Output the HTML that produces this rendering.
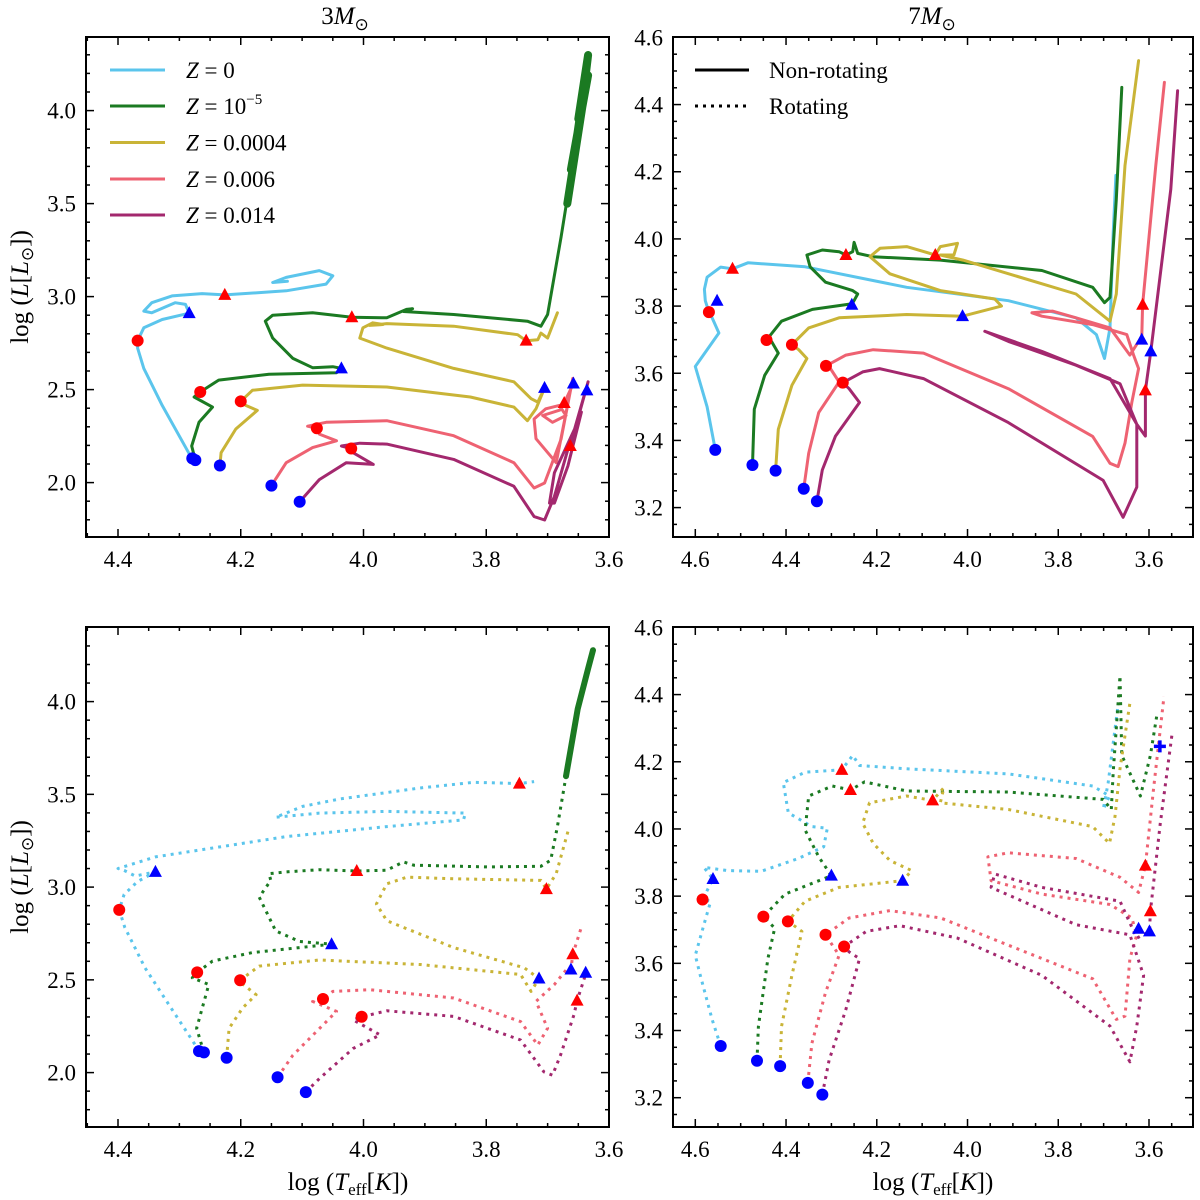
<!DOCTYPE html>
<html><head><meta charset="utf-8"><style>
html,body{margin:0;padding:0;background:#fff}
svg{display:block}
text{font-family:"Liberation Serif",serif;fill:#000}
</style></head><body>
<svg id="chart" width="1200" height="1200" viewBox="0 0 1200 1200" xmlns="http://www.w3.org/2000/svg">
<text x="345" y="24" font-size="25" text-anchor="middle">3<tspan font-style="italic">M</tspan><tspan font-size="17" dy="6">⊙</tspan></text>
<text x="932" y="24" font-size="25" text-anchor="middle">7<tspan font-style="italic">M</tspan><tspan font-size="17" dy="6">⊙</tspan></text>
<text x="348" y="1190" font-size="25" text-anchor="middle">log (<tspan font-style="italic">T</tspan><tspan font-size="17" dy="5">eff</tspan><tspan dy="-5">[</tspan><tspan font-style="italic">K</tspan>])</text>
<text x="933" y="1190" font-size="25" text-anchor="middle">log (<tspan font-style="italic">T</tspan><tspan font-size="17" dy="5">eff</tspan><tspan dy="-5">[</tspan><tspan font-style="italic">K</tspan>])</text>
<text transform="translate(28,287) rotate(-90)" font-size="25" text-anchor="middle">log (<tspan font-style="italic">L</tspan>[<tspan font-style="italic">L</tspan><tspan font-size="17" dy="5">⊙</tspan><tspan dy="-5">])</tspan></text>
<text transform="translate(28,877) rotate(-90)" font-size="25" text-anchor="middle">log (<tspan font-style="italic">L</tspan>[<tspan font-style="italic">L</tspan><tspan font-size="17" dy="5">⊙</tspan><tspan dy="-5">])</tspan></text>
</svg>
<script>
// ---------- data (log Teff, log L) ----------
const tl0=[[4.279,2.130],[4.285,2.161],[4.328,2.415],[4.358,2.614],[4.368,2.723],[4.368,2.763],[4.358,2.832],[4.328,2.877],[4.284,2.911],[4.29,2.958],[4.307,2.967],[4.345,2.913],[4.358,2.922],[4.345,2.967],[4.312,3.004],[4.263,3.016],[4.226,3.009],[4.126,3.031],[4.061,3.067],[4.05,3.112],[4.072,3.14],[4.126,3.103],[4.148,3.076],[4.124,3.082]];
const tl1=[[4.274,2.121],[4.28,2.197],[4.268,2.324],[4.246,2.406],[4.276,2.46],[4.266,2.487],[4.236,2.551],[4.154,2.582],[4.044,2.591],[4.036,2.614],[4.05,2.623],[4.083,2.618],[4.115,2.668],[4.148,2.777],[4.16,2.868],[4.148,2.9],[4.083,2.913],[4.019,2.889],[3.962,2.886],[3.93,2.931],[3.92,2.935],[3.935,2.92],[3.853,2.904],[3.733,2.868],[3.711,2.841],[3.7,2.904],[3.678,3.321],[3.656,3.774],[3.64,4.136],[3.634,4.299],[3.65,3.955],[3.634,4.19],[3.662,3.683],[3.642,4.05],[3.668,3.5]];
const tl2=[[4.234,2.092],[4.232,2.161],[4.208,2.288],[4.173,2.388],[4.192,2.415],[4.2,2.437],[4.181,2.496],[4.099,2.524],[3.962,2.514],[3.826,2.46],[3.755,2.406],[3.733,2.333],[3.719,2.397],[3.705,2.509],[3.716,2.433],[3.727,2.451],[3.755,2.542],[3.853,2.614],[3.962,2.723],[4.006,2.777],[4.001,2.832],[3.985,2.859],[3.968,2.85],[3.99,2.845],[3.962,2.855],[3.853,2.841],[3.749,2.795],[3.735,2.763],[3.716,2.768],[3.711,2.804],[3.7,2.777],[3.684,2.913]];
const tl3=[[4.15,1.984],[4.126,2.107],[4.083,2.188],[4.044,2.225],[4.072,2.261],[4.076,2.292],[4.091,2.303],[4.061,2.324],[3.962,2.333],[3.853,2.252],[3.755,2.107],[3.722,1.971],[3.705,1.998],[3.678,2.234],[3.659,2.56],[3.686,2.107],[3.719,2.236],[3.722,2.342],[3.703,2.397],[3.681,2.415],[3.67,2.361],[3.692,2.324],[3.708,2.361],[3.68,2.39],[3.673,2.428],[3.658,2.533]];
const tl4=[[4.104,1.897],[4.072,2.016],[4.028,2.107],[3.984,2.098],[4.017,2.161],[4.02,2.183],[4.036,2.197],[4.006,2.212],[3.962,2.207],[3.853,2.125],[3.755,1.98],[3.722,1.817],[3.705,1.799],[3.689,1.926],[3.667,2.179],[3.663,2.197],[3.634,2.542],[3.656,2.288],[3.689,2.053],[3.697,1.89],[3.689,1.89],[3.667,2.089],[3.645,2.379]];

const tr0=[[4.556,3.372],[4.574,3.50],[4.6,3.62],[4.548,3.72],[4.563,3.765],[4.57,3.782],[4.578,3.816],[4.58,3.85],[4.574,3.886],[4.544,3.916],[4.518,3.911],[4.484,3.929],[4.358,3.917],[4.134,3.856],[3.91,3.816],[3.761,3.765],[3.716,3.715],[3.698,3.644],[3.686,3.735],[3.679,4.017],[3.673,4.189]];
const tr1=[[4.474,3.327],[4.47,3.493],[4.447,3.594],[4.417,3.66],[4.432,3.695],[4.443,3.699],[4.41,3.755],[4.342,3.79],[4.26,3.806],[4.255,3.804],[4.242,3.836],[4.253,3.846],[4.313,3.871],[4.347,3.917],[4.354,3.952],[4.32,3.967],[4.283,3.962],[4.268,3.952],[4.253,3.962],[4.25,3.99],[4.242,3.957],[4.209,3.947],[4.06,3.937],[3.836,3.906],[3.724,3.856],[3.698,3.81],[3.686,3.826],[3.672,4.118],[3.66,4.451]];
const tr2=[[4.423,3.31],[4.417,3.433],[4.387,3.564],[4.354,3.644],[4.372,3.67],[4.387,3.685],[4.35,3.735],[4.283,3.765],[4.134,3.775],[4.011,3.77],[3.925,3.8],[3.94,3.821],[4.06,3.846],[4.171,3.896],[4.215,3.947],[4.193,3.972],[4.134,3.977],[4.071,3.952],[4.06,3.977],[4.022,3.987],[4.03,3.952],[4.06,3.952],[4.01,3.937],[3.761,3.836],[3.686,3.755],[3.672,3.836],[3.653,4.219],[3.623,4.531]];
const tr3=[[4.361,3.256],[4.35,3.362],[4.328,3.483],[4.283,3.574],[4.305,3.62],[4.312,3.622],[4.268,3.654],[4.208,3.67],[4.097,3.66],[3.91,3.554],[3.724,3.412],[3.686,3.332],[3.668,3.322],[3.653,3.392],[3.638,3.513],[3.623,3.614],[3.634,3.654],[3.649,3.715],[3.724,3.745],[3.836,3.77],[3.858,3.78],[3.813,3.785],[3.761,3.765],[3.686,3.735],[3.642,3.654],[3.623,3.695],[3.616,3.7],[3.614,3.804],[3.585,4.219],[3.566,4.466]];
const tr4=[[4.332,3.219],[4.32,3.312],[4.291,3.413],[4.238,3.513],[4.261,3.554],[4.275,3.572],[4.231,3.604],[4.194,3.614],[4.097,3.584],[3.91,3.453],[3.701,3.281],[3.657,3.171],[3.627,3.261],[3.627,3.448],[3.664,3.569],[3.761,3.624],[3.91,3.695],[3.962,3.725],[3.836,3.665],[3.686,3.584],[3.627,3.448],[3.608,3.413],[3.608,3.549],[3.596,3.665],[3.552,4.148],[3.537,4.441]];

const bl0=[[4.268,2.116],[4.274,2.149],[4.317,2.366],[4.356,2.565],[4.389,2.783],[4.398,2.877],[4.39,2.96],[4.368,3.03],[4.339,3.082],[4.372,3.06],[4.39,3.09],[4.4,3.1],[4.339,3.163],[4.126,3.272],[3.962,3.326],[3.837,3.362],[3.834,3.399],[3.962,3.408],[4.072,3.399],[4.143,3.377],[4.099,3.435],[4.039,3.475],[3.908,3.534],[3.82,3.565],[3.746,3.558],[3.722,3.569]];
const bl1=[[4.26,2.109],[4.272,2.239],[4.252,2.475],[4.279,2.511],[4.271,2.54],[4.246,2.601],[4.181,2.647],[4.052,2.692],[4.104,2.707],[4.143,2.764],[4.17,2.946],[4.151,3.036],[4.154,3.072],[4.126,3.082],[4.072,3.094],[4.011,3.087],[3.962,3.091],[3.935,3.136],[3.918,3.118],[3.798,3.109],[3.711,3.112],[3.695,3.145],[3.684,3.326],[3.67,3.598],[3.651,3.96],[3.634,4.178],[3.626,4.277]];
const bl2=[[4.223,2.08],[4.219,2.239],[4.197,2.348],[4.175,2.42],[4.203,2.493],[4.201,2.498],[4.17,2.574],[4.072,2.607],[3.908,2.583],[3.744,2.529],[3.727,2.438],[3.714,2.507],[3.738,2.565],[3.853,2.674],[3.962,2.819],[3.979,2.909],[3.962,3.018],[3.929,3.054],[3.853,3.045],[3.711,3.036],[3.702,2.989],[3.686,3.072],[3.667,3.299]];
const bl3=[[4.14,1.975],[4.115,2.094],[4.044,2.33],[4.083,2.384],[4.066,2.397],[4.05,2.438],[3.99,2.447],[3.853,2.402],[3.744,2.275],[3.716,2.149],[3.7,2.239],[3.719,2.384],[3.689,2.475],[3.667,2.565],[3.662,2.556],[3.659,2.638],[3.646,2.774]];
const bl4=[[4.094,1.895],[4.072,1.967],[4.017,2.13],[3.973,2.203],[4.017,2.284],[4.003,2.301],[3.962,2.333],[3.853,2.303],[3.744,2.176],[3.706,2.004],[3.692,1.986],[3.679,2.094],[3.657,2.312],[3.652,2.388],[3.64,2.511],[3.638,2.538]];

const br0=[[4.544,3.354],[4.563,3.433],[4.589,3.564],[4.6,3.624],[4.581,3.715],[4.566,3.785],[4.584,3.79],[4.561,3.851],[4.581,3.886],[4.529,3.876],[4.455,3.874],[4.373,3.912],[4.317,3.947],[4.309,4.002],[4.343,4.007],[4.395,4.048],[4.406,4.138],[4.358,4.169],[4.277,4.176],[4.253,4.219],[4.238,4.189],[4.134,4.179],[3.91,4.164],[3.724,4.128],[3.687,4.098],[3.701,4.058],[3.69,4.138],[3.668,4.37]];
const br1=[[4.464,3.31],[4.461,3.412],[4.44,3.614],[4.425,3.705],[4.45,3.739],[4.402,3.806],[4.3,3.861],[4.328,3.917],[4.358,3.997],[4.35,4.098],[4.298,4.128],[4.258,4.116],[4.227,4.14],[4.134,4.113],[3.91,4.11],[3.701,4.088],[3.683,4.058],[3.679,4.169],[3.664,4.456],[3.66,4.219],[3.619,4.098],[3.597,4.219],[3.582,4.345]];
const br2=[[4.413,3.294],[4.41,3.412],[4.387,3.564],[4.365,3.695],[4.38,3.71],[4.396,3.725],[4.358,3.785],[4.283,3.826],[4.143,3.846],[4.123,3.876],[4.171,3.906],[4.208,3.957],[4.231,4.017],[4.216,4.078],[4.134,4.098],[4.077,4.085],[4.052,4.123],[4.06,4.078],[3.91,4.058],[3.724,4.007],[3.687,3.957],[3.675,4.037],[3.664,4.179],[3.642,4.375]];
const br3=[[4.352,3.244],[4.343,3.362],[4.313,3.513],[4.283,3.624],[4.313,3.685],[4.261,3.735],[4.171,3.757],[4.059,3.735],[3.91,3.654],[3.724,3.554],[3.672,3.433],[3.653,3.443],[3.642,3.614],[3.627,3.685],[3.638,3.735],[3.686,3.775],[3.836,3.806],[3.948,3.846],[3.955,3.917],[3.91,3.929],[3.761,3.912],[3.664,3.856],[3.623,3.811],[3.608,3.891],[3.59,4.118],[3.567,4.395]];
const br4=[[4.32,3.209],[4.305,3.312],[4.268,3.463],[4.238,3.614],[4.261,3.634],[4.272,3.65],[4.223,3.695],[4.149,3.712],[4.022,3.675],[3.836,3.564],[3.686,3.413],[3.642,3.307],[3.627,3.413],[3.612,3.564],[3.642,3.685],[3.761,3.715],[3.948,3.826],[3.94,3.866],[3.836,3.826],[3.664,3.785],[3.627,3.675],[3.599,3.695],[3.597,3.755],[3.575,4.017],[3.549,4.284]];

// markers: blue circle, red circle, blue triangle, red triangle (one per metallicity)
const tlBlueCircle=[[4.279,2.130],[4.274,2.121],[4.234,2.092],[4.15,1.984],[4.104,1.897]];
const tlRedCircle=[[4.368,2.763],[4.266,2.487],[4.2,2.437],[4.076,2.292],[4.02,2.183]];
const tlBlueTri=[[4.284,2.911],[4.036,2.614],[3.705,2.509],[3.658,2.533],[3.636,2.496]];
const tlRedTri=[[4.226,3.009],[4.019,2.889],[3.735,2.763],[3.673,2.428],[3.663,2.197]];
const trBlueCircle=[[4.556,3.372],[4.474,3.327],[4.423,3.31],[4.361,3.256],[4.332,3.219]];
const trRedCircle=[[4.57,3.782],[4.443,3.699],[4.387,3.685],[4.312,3.622],[4.275,3.572]];
const trBlueTri=[[4.552,3.816],[4.255,3.804],[4.011,3.77],[3.616,3.7],[3.596,3.665]];
const trRedTri=[[4.518,3.911],[4.268,3.952],[4.071,3.952],[3.614,3.804],[3.608,3.549]];
const blBlueCircle=[[4.268,2.116],[4.26,2.109],[4.223,2.08],[4.14,1.975],[4.094,1.895]];
const blRedCircle=[[4.398,2.877],[4.271,2.54],[4.201,2.498],[4.066,2.397],[4.003,2.301]];
const blBlueTri=[[4.339,3.082],[4.052,2.692],[3.714,2.507],[3.662,2.556],[3.638,2.538]];
const blRedTri=[[3.746,3.558],[4.011,3.087],[3.702,2.989],[3.659,2.638],[3.652,2.388]];
const brBlueCircle=[[4.544,3.354],[4.464,3.31],[4.413,3.294],[4.352,3.244],[4.32,3.209]];
const brRedCircle=[[4.584,3.79],[4.45,3.739],[4.396,3.725],[4.313,3.685],[4.272,3.65]];
const brBlueTri=[[4.561,3.851],[4.3,3.861],[4.143,3.846],[3.623,3.703],[3.599,3.695]];
const brRedTri=[[4.277,4.176],[4.258,4.116],[4.077,4.085],[3.608,3.891],[3.597,3.755]];
const brPlus=[[3.576,4.246]];

const xTicksLeft=[4.4,4.2,4.0,3.8,3.6];
const xTicksRight=[4.6,4.4,4.2,4.0,3.8,3.6];
const yTicksLeft=[4.0,3.5,3.0,2.5,2.0];
const yTicksRight=[4.6,4.4,4.2,4.0,3.8,3.6,3.4,3.2];
const seriesNames=['z-0','z-1e-5','z-0.0004','z-0.006','z-0.014'];
const legendLabels=['0','10','0.0004','0.006','0.014'];
// ---------- styling ----------
const colors=['#5bc5ec','#1b7a22','#c9b437','#ee6272','#a3286e'];
const svg=document.getElementById('chart');
const NS='http://www.w3.org/2000/svg';
function mk(tag,attrs,parent){const e=document.createElementNS(NS,tag);for(const k in attrs)e.setAttribute(k,attrs[k]);(parent||svg).appendChild(e);return e;}
function lin(a0,p0,a1,p1){return v=>p0+(v-a0)*(p1-p0)/(a1-a0);}

const panels=[
 {id:'top-left',L:86,R:609,T:37,B:537,x:lin(4.4,118,3.6,609),y:lin(4.0,110.6,2.0,482.6),xt:xTicksLeft,yt:yTicksLeft,xmin:0.05,ymin:0.1,lines:[tl0,tl1,tl2,tl3,tl4],dotted:false,band:3.4,bc:tlBlueCircle,rc:tlRedCircle,bt:tlBlueTri,rt:tlRedTri},
 {id:'top-right',L:673,R:1193,T:37,B:537,x:lin(4.6,695.3,3.6,1149),y:lin(4.6,37.4,3.2,507.6),xt:xTicksRight,yt:yTicksRight,xmin:0.05,ymin:0.05,lines:[tr0,tr1,tr2,tr3,tr4],dotted:false,bc:trBlueCircle,rc:trRedCircle,bt:trBlueTri,rt:trRedTri},
 {id:'bottom-left',L:86,R:609,T:627,B:1127,x:lin(4.4,118,3.6,609),y:lin(4.0,701.6,2.0,1072.6),xt:xTicksLeft,yt:yTicksLeft,xmin:0.05,ymin:0.1,lines:[bl0,bl1,bl2,bl3,bl4],dotted:true,band:3.5,bc:blBlueCircle,rc:blRedCircle,bt:blBlueTri,rt:blRedTri},
 {id:'bottom-right',L:673,R:1193,T:627,B:1127,x:lin(4.6,695.3,3.6,1149),y:lin(4.6,627.4,3.2,1097.7),xt:xTicksRight,yt:yTicksRight,xmin:0.05,ymin:0.05,lines:[br0,br1,br2,br3,br4],dotted:true,bc:brBlueCircle,rc:brRedCircle,bt:brBlueTri,rt:brRedTri,plus:brPlus}
];

panels.forEach(p=>{
  const g=mk('g',{});
  
  
  const clipId='clip-'+p.id;
  const cp=mk('clipPath',{id:clipId},g);
  mk('rect',{x:p.L,y:p.T,width:p.R-p.L,height:p.B-p.T},cp);
  const tg=mk('g',{stroke:'#000','stroke-width':1.5},g);
  
  
  const xlo=Math.min(p.xt[0],p.xt[p.xt.length-1])-0.2, xhi=Math.max(p.xt[0],p.xt[p.xt.length-1])+0.2;
  for(let v=Math.round(xlo/p.xmin)*p.xmin; v<=xhi+1e-9; v+=p.xmin){
    const px=p.x(v); if(px<p.L+1||px>p.R-1) continue;
    const major=p.xt.some(t=>Math.abs(t-v)<1e-6); const len=major?8:4;
    mk('line',{x1:px,y1:p.B,x2:px,y2:p.B-len},tg); mk('line',{x1:px,y1:p.T,x2:px,y2:p.T+len},tg);
  }
  for(let v=1.5; v<=5; v+=p.ymin){
    const py=p.y(v); if(py<p.T+1||py>p.B-1) continue;
    const major=p.yt.some(t=>Math.abs(t-v)<1e-6); const len=major?8:4;
    mk('line',{x1:p.L,y1:py,x2:p.L+len,y2:py},tg); mk('line',{x1:p.R,y1:py,x2:p.R-len,y2:py},tg);
  }
  p.xt.forEach(t=>{const tx=mk('text',{x:p.x(t),y:p.B+30,'font-size':23,'text-anchor':'middle'},g);tx.textContent=t.toFixed(1);
    
    });
  p.yt.forEach(t=>{const ty=mk('text',{x:p.L-10,y:p.y(t)+8,'font-size':23,'text-anchor':'end'},g);ty.textContent=t.toFixed(1);
    
    });
  const lg=mk('g',{'clip-path':'url(#'+clipId+')'},g);
  p.lines.forEach((s,i)=>{
    const d=s.map((pt,j)=>(j?'L':'M')+p.x(pt[0]).toFixed(1)+','+p.y(pt[1]).toFixed(1)).join(' ');
    const path=mk('path',{d:d,fill:'none',stroke:colors[i],'stroke-width':3,'stroke-linejoin':'round','stroke-linecap':p.dotted?'butt':'round'},lg);
    if(p.dotted) path.setAttribute('stroke-dasharray','3 5');
    
    
    if(i===1 && p.band){
      const seg=s.filter(pt=>pt[1]>p.band);
      const d2=seg.map((pt,j)=>(j?'L':'M')+p.x(pt[0]).toFixed(1)+','+p.y(pt[1]).toFixed(1)).join(' ');
      const bp=mk('path',{d:d2,fill:'none',stroke:colors[i],'stroke-width':p.dotted?6:8,'stroke-linejoin':'round','stroke-linecap':'round'},lg);
      
      
    }
  });
  p.bc.forEach((pt,i)=>{const c=mk('circle',{cx:p.x(pt[0]),cy:p.y(pt[1]),r:6,fill:'#0000ff'},g);
    
    });
  p.rc.forEach((pt,i)=>{const c=mk('circle',{cx:p.x(pt[0]),cy:p.y(pt[1]),r:6,fill:'#ff0000'},g);
    
    });
  function tri(pt,col,name){const cx=p.x(pt[0]),cy=p.y(pt[1]);
    const t=mk('polygon',{points:`${cx},${cy-7} ${cx-6.5},${cy+5} ${cx+6.5},${cy+5}`,fill:col},g);
    
    }
  p.bt.forEach((pt,i)=>tri(pt,'#0000ff',p.id+'-blue-triangle-'+seriesNames[i]));
  p.rt.forEach((pt,i)=>tri(pt,'#ff0000',p.id+'-red-triangle-'+seriesNames[i]));
  if(p.plus) p.plus.forEach(pt=>{const cx=p.x(pt[0]),cy=p.y(pt[1]);
    const pl=mk('path',{d:`M${cx-6},${cy}H${cx+6}M${cx},${cy-6}V${cy+6}`,stroke:'#0000ff','stroke-width':3.5},g);
    
    });
  const fr=mk('rect',{x:p.L,y:p.T,width:p.R-p.L,height:p.B-p.T,fill:'none',stroke:'#000','stroke-width':2},g);
  
  
});

const leg=mk('g',{});


const legY=[70,106,142.5,179,215];
legendLabels.forEach((lab,i)=>{
  const ln=mk('line',{x1:110,y1:legY[i],x2:165,y2:legY[i],stroke:colors[i],'stroke-width':3},leg);
  
  
  const t=mk('text',{x:186,y:legY[i]+8,'font-size':23},leg);
  t.innerHTML='<tspan font-style="italic">Z</tspan> = '+lab+(i===1?'<tspan font-size="15" dy="-10">−5</tspan>':'');
  
  
});
const leg2=mk('g',{});


const l1=mk('line',{x1:695,y1:70,x2:749,y2:70,stroke:'#000','stroke-width':3},leg2);


const l2=mk('line',{x1:695,y1:106,x2:749,y2:106,stroke:'#000','stroke-width':3,'stroke-dasharray':'3 5'},leg2);


const t1=mk('text',{x:769,y:78,'font-size':23},leg2);t1.textContent='Non-rotating';


const t2=mk('text',{x:769,y:114,'font-size':23},leg2);t2.textContent='Rotating';


</script>
</body></html>
